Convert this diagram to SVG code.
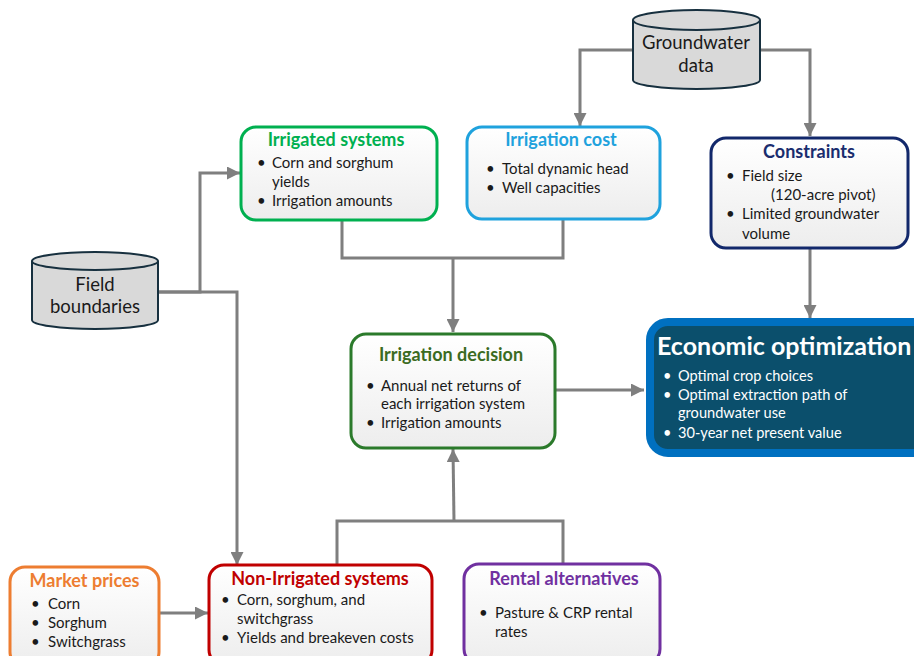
<svg xmlns="http://www.w3.org/2000/svg" width="914" height="656" viewBox="0 0 914 656">
<style>
text{font-family:Lato,"Liberation Sans",Arial,sans-serif;}
.box{stroke-width:3;fill:url(#g)}
.t{font-weight:bold;font-size:18px;text-anchor:middle}
.b{font-size:15px;fill:#1a1a1a}
.cyl{fill:#D9D9D9;stroke:#17303F;stroke-width:2}
.ct{font-size:18.5px;fill:#1a1a1a;text-anchor:middle}
.c{fill:none;stroke:#7F7F7F;stroke-width:3}
.w{font-size:14.6px;fill:#ffffff}
</style>
<defs>
<linearGradient id="g" x1="0" y1="0" x2="0" y2="1">
<stop offset="0" stop-color="#FFFFFF"/>
<stop offset="1" stop-color="#EDEDED"/>
</linearGradient>
<marker id="a" viewBox="0 0 12 12" refX="12" refY="6" markerWidth="13" markerHeight="13" markerUnits="userSpaceOnUse" orient="auto">
<path d="M0,0 L12,6 L0,12 Z" fill="#7F7F7F"/>
</marker>
</defs>
<rect width="914" height="656" fill="#FFFFFF"/>

<g id="connectors">
<path class="c" d="M158,292 H200 V173 H240" marker-end="url(#a)"/>
<path class="c" d="M158,292 H237 V565" marker-end="url(#a)"/>
<path class="c" d="M633,50 H580 V126" marker-end="url(#a)"/>
<path class="c" d="M760,50 H810 V136" marker-end="url(#a)"/>
<path class="c" d="M342,220 V258 H563 V219"/>
<path class="c" d="M453,258 V332" marker-end="url(#a)"/>
<path class="c" d="M810,248 V318" marker-end="url(#a)"/>
<path class="c" d="M555,390 H644" marker-end="url(#a)"/>
<path class="c" d="M337,564 V521 H563 V563"/>
<path class="c" d="M454,521 L453,449" marker-end="url(#a)"/>
<path class="c" d="M160,613 H208" marker-end="url(#a)"/>
</g>

<g id="field-boundaries">
<path class="cyl" d="M32,261 V320 A63,9 0 0 0 158,320 V261"/>
<ellipse class="cyl" cx="95" cy="261" rx="63" ry="9"/>
<text class="ct" x="95" y="291">Field</text>
<text class="ct" x="95" y="313">boundaries</text>
</g>

<g id="groundwater-data">
<path class="cyl" d="M633,20 V80 A63.5,9 0 0 0 760,80 V20"/>
<ellipse class="cyl" cx="696.5" cy="20" rx="63.5" ry="10"/>
<text class="ct" x="696" y="49">Groundwater</text>
<text class="ct" x="696" y="72">data</text>
</g>

<g id="irrigated-systems">
<rect class="box" x="241" y="127" width="196" height="93" rx="15" stroke="#00B050"/>
<text class="t" x="336" y="146" fill="#00B050">Irrigated systems</text>
<text class="b" x="257" y="168">•</text><text class="b" x="272" y="168">Corn and sorghum</text>
<text class="b" x="272" y="187">yields</text>
<text class="b" x="257" y="206">•</text><text class="b" x="272" y="206">Irrigation amounts</text>
</g>

<g id="irrigation-cost">
<rect class="box" x="467" y="127" width="193" height="92" rx="15" stroke="#1FA2DD"/>
<text class="t" x="561" y="146" fill="#1FA2DD">Irrigation cost</text>
<text class="b" x="486" y="174">•</text><text class="b" x="502" y="174">Total dynamic head</text>
<text class="b" x="486" y="193">•</text><text class="b" x="502" y="193">Well capacities</text>
</g>

<g id="constraints">
<rect class="box" x="711" y="138" width="197" height="110" rx="15" stroke="#12286B"/>
<text class="t" x="809" y="158" fill="#1A2D6E">Constraints</text>
<text class="b" x="726" y="181">•</text><text class="b" x="742" y="181">Field size</text>
<text class="b" x="771" y="200">(120-acre pivot)</text>
<text class="b" x="726" y="219">•</text><text class="b" x="742" y="219">Limited groundwater</text>
<text class="b" x="742" y="239">volume</text>
</g>

<g id="irrigation-decision">
<rect class="box" x="351" y="334" width="204" height="114" rx="15" stroke="#2B7A2B"/>
<text class="t" x="451" y="361" fill="#3B6B22">Irrigation decision</text>
<text class="b" x="366" y="391">•</text><text class="b" x="381" y="391">Annual net returns of</text>
<text class="b" x="381" y="409">each irrigation system</text>
<text class="b" x="366" y="428">•</text><text class="b" x="381" y="428">Irrigation amounts</text>
</g>

<g id="economic-optimization">
<rect x="650" y="322" width="290" height="131" rx="18" fill="#0B4F6C" stroke="#0070C0" stroke-width="8"/>
<text x="657" y="355" font-size="25" font-weight="bold" fill="#FFFFFF">Economic optimization</text>
<text class="w" x="663" y="381">•</text><text class="w" x="678" y="381">Optimal crop choices</text>
<text class="w" x="663" y="400">•</text><text class="w" x="678" y="400">Optimal extraction path of</text>
<text class="w" x="678" y="418">groundwater use</text>
<text class="w" x="663" y="438">•</text><text class="w" x="678" y="438">30-year net present value</text>
</g>

<g id="market-prices">
<rect class="box" x="10" y="567" width="149" height="100" rx="15" stroke="#ED7D31"/>
<text class="t" x="84.5" y="587" fill="#ED7D31">Market prices</text>
<text class="b" x="31" y="609">•</text><text class="b" x="48" y="609">Corn</text>
<text class="b" x="31" y="628">•</text><text class="b" x="48" y="628">Sorghum</text>
<text class="b" x="31" y="647">•</text><text class="b" x="48" y="647">Switchgrass</text>
</g>

<g id="non-irrigated-systems">
<rect class="box" x="209" y="565" width="223" height="100" rx="15" stroke="#C00000"/>
<text class="t" x="320" y="585" fill="#C00000">Non-Irrigated systems</text>
<text class="b" x="221" y="605">•</text><text class="b" x="237" y="605">Corn, sorghum, and</text>
<text class="b" x="237" y="624">switchgrass</text>
<text class="b" x="221" y="643">•</text><text class="b" x="237" y="643">Yields and breakeven costs</text>
</g>

<g id="rental-alternatives">
<rect class="box" x="464" y="564" width="196" height="100" rx="15" stroke="#7030A0"/>
<text class="t" x="564" y="585" fill="#7030A0">Rental alternatives</text>
<text class="b" x="479" y="618">•</text><text class="b" x="495" y="618">Pasture &amp; CRP rental</text>
<text class="b" x="495" y="637">rates</text>
</g>
</svg>
